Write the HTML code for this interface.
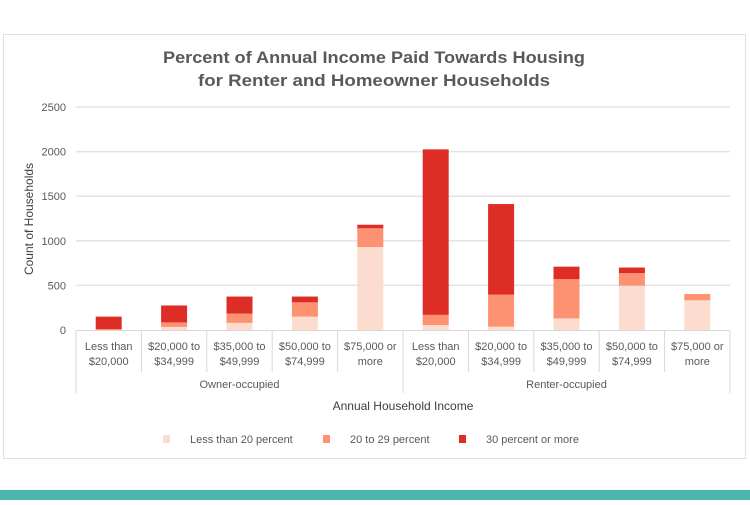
<!DOCTYPE html>
<html><head><meta charset="utf-8"><style>
body{margin:0;background:#fff;width:750px;height:500px;overflow:hidden;font-family:"Liberation Sans",sans-serif}
</style></head><body>
<svg id="chart" width="750" height="500" font-family="Liberation Sans, sans-serif">
<rect x="3.5" y="34.5" width="742" height="424" fill="#fff" stroke="#e0e0e0"/>
<rect x="0" y="490" width="750" height="10" fill="#4db6ac"/>
<text x="374" y="63" text-anchor="middle" font-size="17" font-weight="bold" fill="#595959" textLength="422" lengthAdjust="spacingAndGlyphs">Percent of Annual Income Paid Towards Housing</text>
<text x="374" y="86" text-anchor="middle" font-size="17" font-weight="bold" fill="#595959" textLength="352" lengthAdjust="spacingAndGlyphs">for Renter and Homeowner Households</text>
<text transform="translate(33,219) rotate(-90)" text-anchor="middle" font-size="12" fill="#404040">Count of Households</text>
<text x="403" y="410" text-anchor="middle" font-size="12" fill="#404040">Annual Household Income</text>
<g id="grid"></g><g id="bars"></g><g id="xaxis"></g><g id="legend"></g>
</svg>
<script>
const categories = ["Less than|$20,000","$20,000 to|$34,999","$35,000 to|$49,999","$50,000 to|$74,999","$75,000 or|more","Less than|$20,000","$20,000 to|$34,999","$35,000 to|$49,999","$50,000 to|$74,999","$75,000 or|more"];
const groups = ["Owner-occupied","Renter-occupied"];
const seriesNames = ["Less than 20 percent","20 to 29 percent","30 percent or more"];
const lessThan20 = [0,35,80,150,930,55,37,130,497,333];
const from20to29 = [10,50,105,160,210,115,360,440,140,70];
const over30 = [140,190,190,65,40,1855,1015,140,63,0];
const yTicks = [0,500,1000,1500,2000,2500];

const NS="http://www.w3.org/2000/svg";
const colors=["#fddcd0","#fc9272","#de2d26"];
const x0=76,x1=730,y0=330,y1=107,yMax=2500;
const band=(x1-x0)/categories.length, bw=26;
const ys=v=>y0-(v/yMax)*(y0-y1);
const xc=i=>x0+band*(i+0.5);
function mk(tag,attrs,parent){const e=document.createElementNS(NS,tag);for(const k in attrs)e.setAttribute(k,attrs[k]);parent.appendChild(e);return e;}
const grid=document.getElementById('grid');
yTicks.forEach(t=>{
  if(t>0){const l=mk('line',{x1:x0,x2:x1,y1:ys(t),y2:ys(t),stroke:'#e3e3e3','stroke-width':1.5},grid);
  
  }
  const tx=mk('text',{x:66,y:ys(t)+4,'text-anchor':'end','font-size':11,fill:'#595959'},grid);tx.textContent=t;
  
  
});
const bars=document.getElementById('bars');
const series=[lessThan20,from20to29,over30];
categories.forEach((c,i)=>{
  let base=0;
  series.forEach((s,k)=>{
    const v=s[i]; if(v<=0) return;
    const r=mk('rect',{x:xc(i)-bw/2,y:ys(base+v),width:bw,height:ys(base)-ys(base+v),fill:colors[k]},bars);
    
    
    base+=v;
  });
});
const xa=document.getElementById('xaxis');
const axl=mk('line',{x1:x0,x2:x1,y1:y0+0.5,y2:y0+0.5,stroke:'#d9d9d9'},xa);


for(let i=0;i<=categories.length;i++){
  const x=x0+band*i, long=(i%5===0);
  const l=mk('line',{x1:x,x2:x,y1:y0,y2:long?y0+63:y0+42,stroke:'#d9d9d9'},xa);
  
  
}
categories.forEach((c,i)=>{
  c.split('|').forEach((ln,j)=>{
    const t=mk('text',{x:xc(i),y:y0+20+j*15,'text-anchor':'middle','font-size':11,fill:'#595959'},xa);t.textContent=ln;
    
    
  });
});
groups.forEach((g,k)=>{
  const t=mk('text',{x:x0+band*(k*5+2.5),y:y0+58,'text-anchor':'middle','font-size':11,fill:'#595959'},xa);t.textContent=g;
  
  
});
const lg=document.getElementById('legend');
const lx=[163,323,459];
seriesNames.forEach((n,k)=>{
  const r=mk('rect',{x:lx[k],y:435,width:7,height:8,fill:colors[k]},lg);
  
  
  const t=mk('text',{x:lx[k]+27,y:443,'font-size':11,fill:'#595959'},lg);t.textContent=n;
  
  
});
</script>
</body></html>
